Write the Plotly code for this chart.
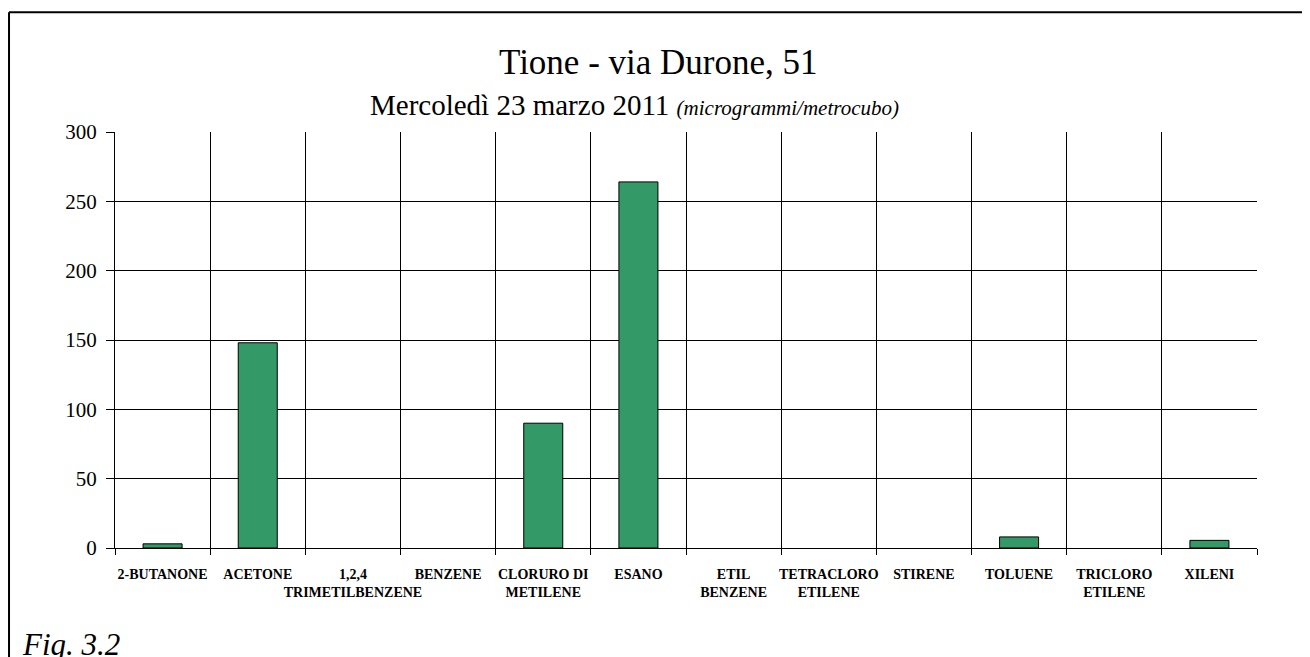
import plotly.graph_objects as go

categories = ["2-BUTANONE", "ACETONE", "1,2,4<br>TRIMETILBENZENE", "BENZENE",
              "CLORURO DI<br>METILENE", "ESANO", "ETIL<br>BENZENE", "TETRACLORO<br>ETILENE",
              "STIRENE", "TOLUENE", "TRICLORO<br>ETILENE", "XILENI"]
values = [3, 148, 0, 0, 90, 264, 0, 0, 0, 8, 0, 5.5]
y_ticks = [0, 50, 100, 150, 200, 250, 300]

SERIF = "Liberation Serif, Times New Roman, serif"

fig = go.Figure(go.Bar(
    x=categories, y=values,
    marker=dict(color="#339966",
                line=dict(color="#000000", width=[1 if v > 0 else 0 for v in values])),
    width=0.41,
))

fig.update_layout(
    width=1310, height=657,
    margin=dict(l=107, r=61, t=124, b=117),
    paper_bgcolor="white", plot_bgcolor="white",
    showlegend=False,
    font=dict(family=SERIF, color="black"),
    xaxis=dict(
        type="category", tickson="boundaries", showgrid=True, gridcolor="#000000", gridwidth=1,
        ticks="outside", ticklen=6, tickcolor="#000000",
        showline=True, linecolor="#000000", linewidth=1,
        tickfont=dict(family=SERIF, size=14, color="black", weight="bold"),
        tickangle=0, ticklabelstandoff=13,
    ),
    yaxis=dict(
        range=[0, 300], tickvals=y_ticks, showgrid=True, gridcolor="#000000", gridwidth=1,
        ticks="outside", ticklen=8, tickcolor="#000000",
        showline=True, linecolor="#000000", linewidth=1, zeroline=False,
        tickfont=dict(family=SERIF, size=21, color="black"), ticklabelstandoff=5,
    ),
    annotations=[
        dict(text="Tione - via Durone, 51", xref="paper", yref="paper", x=0.476, y=1.168,
             xanchor="center", yanchor="middle", showarrow=False,
             font=dict(family=SERIF, size=35, color="black")),
        dict(text="Mercoledì 23 marzo 2011 <span style='font-size:21px'><i>(microgrammi/metrocubo)</i></span>",
             xref="paper", yref="paper", x=0.455, y=1.064,
             xanchor="center", yanchor="middle", showarrow=False,
             font=dict(family=SERIF, size=29, color="black")),
        dict(text="<i>Fig. 3.2</i>", xref="paper", yref="paper", x=-0.0835, y=-0.231,
             xanchor="left", yanchor="middle", showarrow=False,
             font=dict(family=SERIF, size=31, color="black")),
    ],
    shapes=[
        dict(type="line", xref="paper", yref="paper", x0=-0.0928, x1=1.2, y0=1.288, y1=1.288,
             line=dict(color="black", width=2)),
        dict(type="line", xref="paper", yref="paper", x0=-0.0928, x1=-0.0928, y0=1.288, y1=-0.4,
             line=dict(color="black", width=2)),
    ],
)

fig.write_html("out.html")
